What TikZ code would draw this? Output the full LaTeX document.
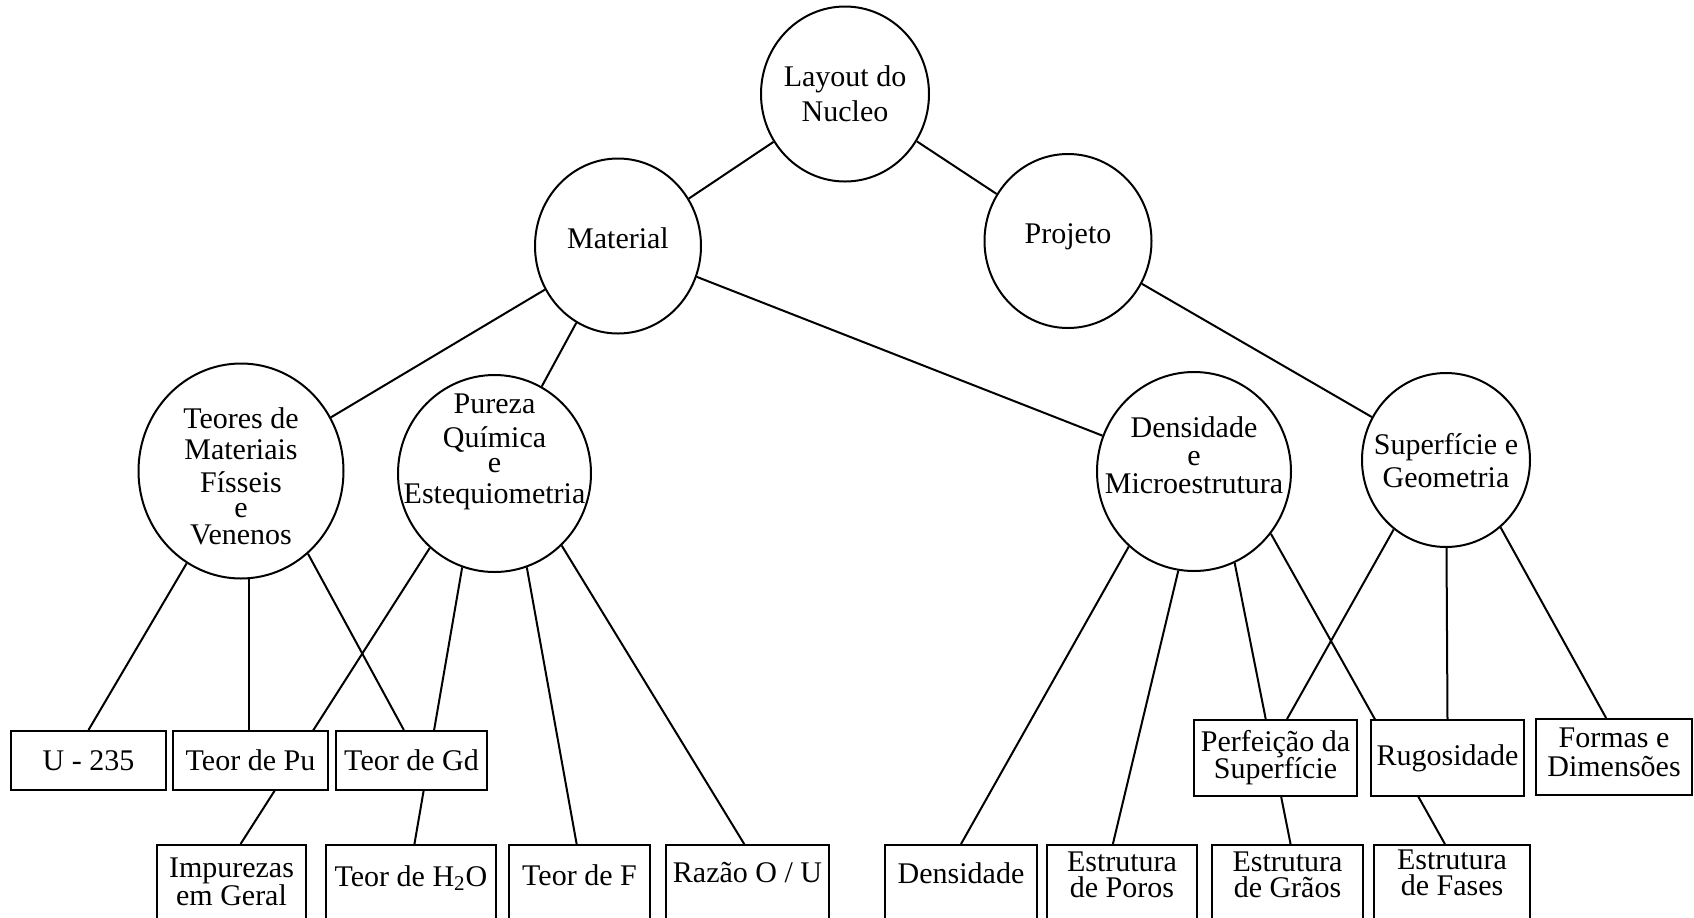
\documentclass[tikz,border=0pt]{standalone}
\usepackage{fontspec}
\setmainfont{Liberation Serif}
\usetikzlibrary{shapes.geometric,calc,backgrounds}
% keep the fixed line spacing of stacked labels even when lines come close
\lineskiplimit=-10pt

\begin{document}
\begin{tikzpicture}[x=0.5pt,y=-0.5pt,
  every node/.style={font=\fontsize{15}{15.5}\selectfont},
  bubble/.style={ellipse,draw,line width=1pt,fill=white,inner sep=0pt},
  box/.style={rectangle,draw,line width=1pt,fill=white,inner sep=0pt,align=center},
  lowbox/.style={box,minimum height=40pt},
  txt/.style={align=center,inner sep=0pt},
  link/.style={line width=1pt}]
\useasboundingbox (0,0) rectangle (1694,917);
\clip (0,0) rectangle (1694,917);

% ---- concept bubbles ----
\node[bubble,minimum width=84pt,minimum height=87.5pt] (layout) at (845,94) {};
\node[bubble,minimum width=83pt,minimum height=87.5pt] (material) at (618,246) {};
\node[bubble,minimum width=83.5pt,minimum height=87pt] (projeto) at (1068,241) {};
\node[bubble,minimum width=102.5pt,minimum height=107.5pt] (teores) at (241,471) {};
\node[bubble,minimum width=96.5pt,minimum height=98.5pt] (pureza) at (494.5,473.5) {};
\node[bubble,minimum width=97pt,minimum height=99.5pt] (dens) at (1194,471.5) {};
\node[bubble,minimum width=84pt,minimum height=87pt] (sup) at (1446,460) {};

\node[txt,font=\fontsize{15}{17.5}\selectfont] at (845,93.5) {Layout do\\Nucleo};
\node[txt] at (618,238) {Material};
\node[txt] at (1068,237) {Projeto};
\node[txt] at (241,476) {Teores de\\Materiais\\[1pt]Físseis\\[-3pt]e\\[-2pt]Venenos};
\node[txt] at (494.5,451.5) {Pureza\\[1.5pt]Química\\[-3pt]e\\Estequiometria};
\node[txt,font=\fontsize{15}{14}\selectfont] at (1194,455) {Densidade\\e\\Microestrutura};
\node[txt,font=\fontsize{15}{16.5}\selectfont] at (1446,461) {Superfície e\\Geometria};

% ---- upper row of boxes ----
\node[box,minimum width=77.5pt,minimum height=29.5pt] (u235) at (88.5,760.5) {U - 235};
\node[box,minimum width=77.5pt,minimum height=29.5pt] (pu) at (250.5,760.5) {Teor de Pu};
\node[box,minimum width=75.5pt,minimum height=29.5pt] (gd) at (411.5,760.5) {Teor de Gd};
\node[box,minimum width=81.5pt,minimum height=38pt,font=\fontsize{15}{13.5}\selectfont] (perf) at (1275.5,758) {Perfeição da\\Superfície};
\node[box,minimum width=76.5pt,minimum height=38pt] (rug) at (1447.5,758) {Rugosidade};
\node[box,minimum width=78pt,minimum height=38pt] (formas) at (1614,757) {};
\node[txt,font=\fontsize{15}{14.5}\selectfont] at (1614,752.5) {Formas e\\Dimensões};

% ---- lower row of boxes (running off the bottom edge) ----
\node[lowbox,minimum width=74.5pt] (imp) at (231.5,885) {};
\node[lowbox,minimum width=85pt] (h2o) at (411,885) {};
\node[lowbox,minimum width=70.5pt] (teorf) at (579.5,885) {};
\node[lowbox,minimum width=81.5pt] (razao) at (747.5,885) {};
\node[lowbox,minimum width=76pt] (densb) at (961,885) {};
\node[lowbox,minimum width=75pt] (poros) at (1122,885) {};
\node[lowbox,minimum width=75.5pt] (graos) at (1287.5,885) {};
\node[lowbox,minimum width=78pt] (fases) at (1452,885) {};

\node[txt,font=\fontsize{15}{14}\selectfont] at (231.5,881.5) {Impurezas\\em Geral};
\node[txt] at (411,878) {Teor de H\textsubscript{2}O};
\node[txt] at (579.5,875) {Teor de F};
\node[txt] at (747.5,873) {Razão O / U};
\node[txt] at (961,873) {Densidade};
\node[txt,font=\fontsize{15}{13}\selectfont] at (1122,875) {Estrutura\\de Poros};
\node[txt,font=\fontsize{15}{13}\selectfont] at (1287.5,875) {Estrutura\\de Grãos};
\node[txt,font=\fontsize{15}{13}\selectfont] at (1452,873) {Estrutura\\de Fases};

% ---- connectors, kept under the white shapes ----
\begin{pgfonlayer}{background}
\fill[white] (0,0) rectangle (1694,917);
\draw[link] (layout) -- (material);
\draw[link] (layout) -- (projeto);
\draw[link] (material) -- (teores);
\draw[link] (material) -- (pureza);
\draw[link] (material) -- (dens);
\draw[link] (projeto) -- (sup);
\draw[link] (teores) -- (u235.north);
\draw[link] (teores.-86) -- (teores.-86 |- pu.north);
\draw[link] (teores.-51) -- ($(gd.north west)!0.45!(gd.north east)$);
\draw[link] (pureza.-131) -- ($(imp.north west)!0.56!(imp.north east)$);
\draw[link] (pureza.-109) -- ($(h2o.north west)!0.52!(h2o.north east)$);
\draw[link] (pureza.-71) -- ($(teorf.north west)!0.48!(teorf.north east)$);
\draw[link] (pureza.-47) -- ($(razao.north west)!0.48!(razao.north east)$);
\draw[link] (dens.-131) -- (densb.north);
\draw[link] (dens.-99.5) -- ($(poros.north west)!0.44!(poros.north east)$);
\draw[link] (dens.-66) -- ($(graos.north west)!0.52!(graos.north east)$);
\draw[link] (dens.-39) -- ($(fases.north west)!0.455!(fases.north east)$);
\draw[link] (sup.-127) -- ($(perf.north west)!0.57!(perf.north east)$);
\draw[link] (sup) -- (rug.north);
\draw[link] (sup.-51) -- ($(formas.north west)!0.45!(formas.north east)$);
\end{pgfonlayer}
\end{tikzpicture}
\end{document}
